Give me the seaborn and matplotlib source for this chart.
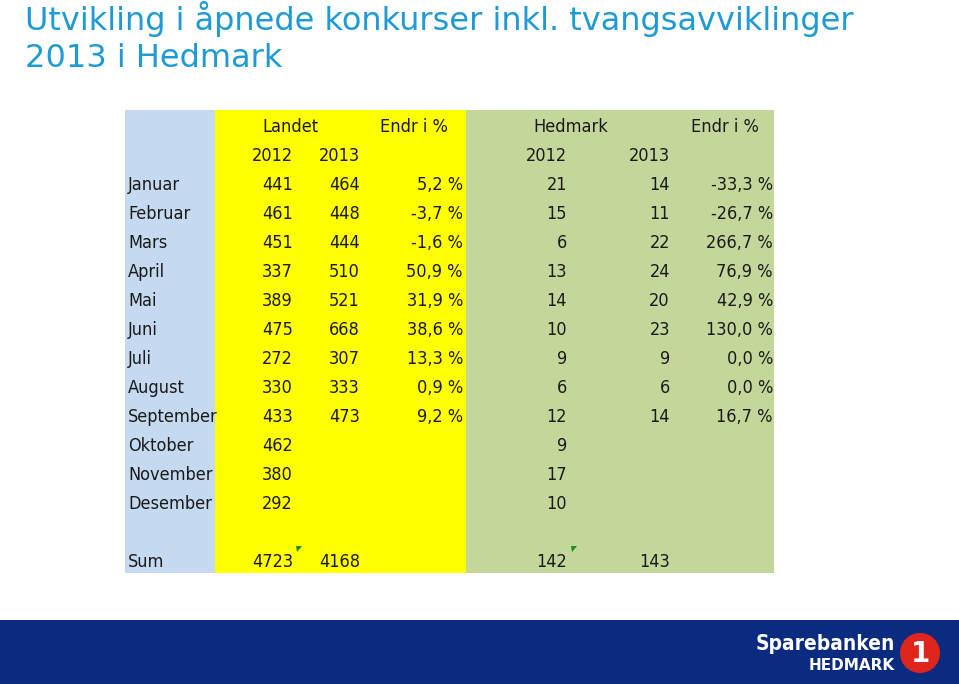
import numpy as np
import matplotlib
matplotlib.use("Agg")
import matplotlib.pyplot as plt
from matplotlib.colors import ListedColormap
from matplotlib.patches import Rectangle, Circle, Polygon
import seaborn as sns

# ---------------- data ----------------
months = ["Januar", "Februar", "Mars", "April", "Mai", "Juni", "Juli",
          "August", "September", "Oktober", "November", "Desember"]
landet_2012 = [441, 461, 451, 337, 389, 475, 272, 330, 433, 462, 380, 292]
landet_2013 = [464, 448, 444, 510, 521, 668, 307, 333, 473]
landet_endr = [5.2, -3.7, -1.6, 50.9, 31.9, 38.6, 13.3, 0.9, 9.2]
hedmark_2012 = [21, 15, 6, 13, 14, 10, 9, 6, 12, 9, 17, 10]
hedmark_2013 = [14, 11, 22, 24, 20, 23, 9, 6, 14]
hedmark_endr = [-33.3, -26.7, 266.7, 76.9, 42.9, 130.0, 0.0, 0.0, 16.7]
sum_labels = ["4723", "4168", "142", "143"]
group_headers = ["Landet", "Endr i %", "Hedmark", "Endr i %"]
year_headers = ["2012", "2013", "2012", "2013"]
title_lines = ["Utvikling i åpnede konkurser inkl. tvangsavviklinger",
               "2013 i Hedmark"]

# ---------------- style ----------------
sns.set_theme(style="white")
plt.rcParams["font.family"] = ["DejaVu Sans"]

W, H = 959, 684
fig = plt.figure(figsize=(W / 100, H / 100), dpi=100)
fig.patch.set_facecolor("white")

# table geometry (pixels)
tx0, tx1, ty0, ty1 = 125, 774, 110, 573
band_edges = [125, 215, 466, 774]
band_colors = ["#C5D9F1", "#FFFF00", "#C4D79B"]

# background bands drawn with seaborn heatmap (1 row, pixel columns)
codes = np.zeros((1, tx1 - tx0), dtype=int)
for k in range(3):
    codes[0, band_edges[k] - tx0:band_edges[k + 1] - tx0] = k
hax = fig.add_axes([tx0 / W, 1 - ty1 / H, (tx1 - tx0) / W, (ty1 - ty0) / H])
sns.heatmap(codes, cmap=ListedColormap(band_colors), vmin=-0.5, vmax=2.5,
            cbar=False, xticklabels=False, yticklabels=False, ax=hax,
            rasterized=True)
hax.set_axis_off()

# overlay axes in pixel coordinates
ax = fig.add_axes([0, 0, 1, 1])
ax.set_xlim(0, W)
ax.set_ylim(H, 0)
ax.set_axis_off()
ax.patch.set_alpha(0)

nrows = 16
rh = (ty1 - ty0) / nrows
def ry(i):
    return ty0 + rh * (i + 0.5) + 3

tfont = dict(family=["DejaVu Sans"], fontstretch="condensed", fontsize=13,
             color="#1a1a1a", va="center")

# header row
hx = [290, 414, 571, 725]
for x, t in zip(hx, group_headers):
    ax.text(x, ry(0), t, ha="center", **tfont)
# year row
yx = [293, 360, 567, 670]
for x, t in zip(yx, year_headers):
    ax.text(x, ry(1), t, ha="right", **tfont)

def pct(v):
    return f"{v:.1f}".replace(".", ",") + " %"

for i, m in enumerate(months):
    y = ry(2 + i)
    ax.text(128, y, m, ha="left", **tfont)
    ax.text(293, y, str(landet_2012[i]), ha="right", **tfont)
    ax.text(567, y, str(hedmark_2012[i]), ha="right", **tfont)
    if i < len(landet_2013):
        ax.text(360, y, str(landet_2013[i]), ha="right", **tfont)
        ax.text(463, y, pct(landet_endr[i]), ha="right", **tfont)
        ax.text(670, y, str(hedmark_2013[i]), ha="right", **tfont)
        ax.text(773, y, pct(hedmark_endr[i]), ha="right", **tfont)

# sum row
ysum = ry(15)
ax.text(128, ysum, "Sum", ha="left", **tfont)
for x, t in zip(yx, sum_labels):
    ax.text(x, ysum, t, ha="right", **tfont)
# green error indicators
for x in (296, 571):
    ax.add_patch(Polygon([(x, 546), (x + 6, 546), (x + 1, 552)],
                         closed=True, color="#1E8C1E", lw=0))

# title
tcol = "#1E9AD6"
ax.text(25, 30, title_lines[0], fontsize=23, color=tcol, ha="left",
        va="baseline", family=["DejaVu Sans"])
ax.text(25, 67, title_lines[1], fontsize=23, color=tcol, ha="left",
        va="baseline", family=["DejaVu Sans"])

# footer band with logo
ax.add_patch(Rectangle((0, 620), W, 64, color="#0B2B80", lw=0))
ax.text(895, 650, "Sparebanken", fontsize=15, color="white", ha="right",
        va="baseline", fontweight="bold", family=["DejaVu Sans"],
        fontstretch="condensed")
ax.text(895, 670, "HEDMARK", fontsize=11, color="white", ha="right",
        va="baseline", fontweight="bold", family=["DejaVu Sans"])
ax.add_patch(Circle((920, 653), 20, color="#E0261C", lw=0))
ax.text(921, 654, "1", fontsize=20, color="white", ha="center", va="center",
        fontweight="bold", family=["DejaVu Sans"])

fig.savefig("out.png", dpi=100)
